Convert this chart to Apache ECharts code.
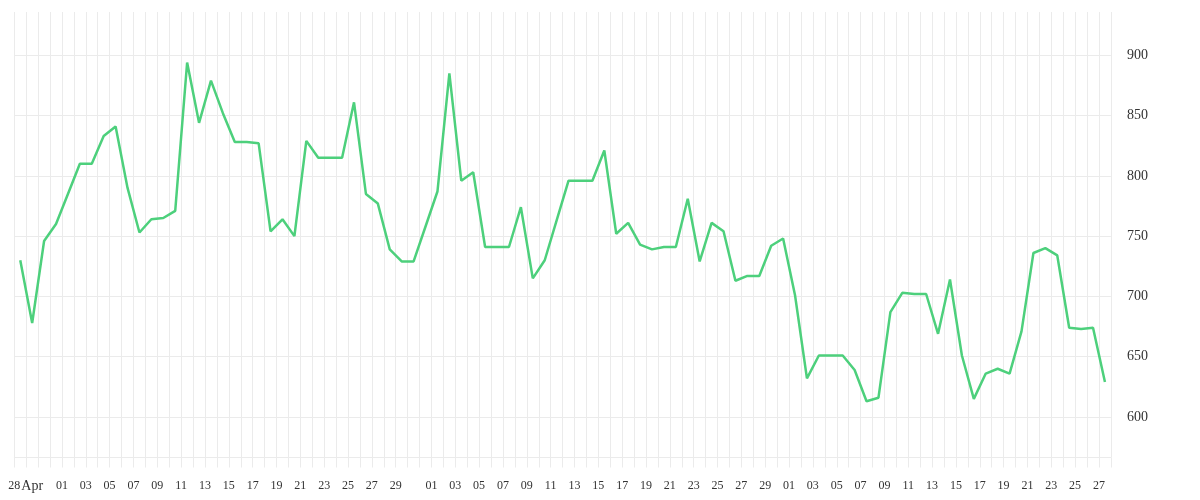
<!DOCTYPE html>
<html>
<head>
<meta charset="utf-8">
<script src="https://cdn.jsdelivr.net/npm/echarts@6/dist/echarts.min.js"></script>
<style>
  html, body { margin: 0; padding: 0; background: #ffffff; }
  #chart { width: 1200px; height: 500px; }
</style>
</head>
<body>
<div id="chart"></div>
<script>
// Day-of-month category for each point (4 + 31 + 30 + 27 = 92 days)
const categories = [
  '28','29','30','31',
  '01','02','03','04','05','06','07','08','09','10','11','12','13','14','15','16',
  '17','18','19','20','21','22','23','24','25','26','27','28','29','30','31',
  '01','02','03','04','05','06','07','08','09','10','11','12','13','14','15','16',
  '17','18','19','20','21','22','23','24','25','26','27','28','29','30',
  '01','02','03','04','05','06','07','08','09','10','11','12','13','14','15','16',
  '17','18','19','20','21','22','23','24','25','26','27'
];

// Tick labels shown under the axis ('' = hidden)
const xLabels = [
  '28','Apr','','',
  '01','','03','','05','','07','','09','','11','','13','','15','',
  '17','','19','','21','','23','','25','','27','','29','','',
  '01','','03','','05','','07','','09','','11','','13','','15','',
  '17','','19','','21','','23','','25','','27','','29','',
  '01','','03','','05','','07','','09','','11','','13','','15','',
  '17','','19','','21','','23','','25','','27'
];

const values = [
  730, 678, 746, 760, 785, 810, 810, 833, 841, 790,
  753, 764, 765, 771, 894, 844, 879, 852, 828, 828,
  827, 754, 764, 750, 829, 815, 815, 815, 861, 785,
  777, 739, 729, 729, 758, 787, 885, 796, 803, 741,
  741, 741, 774, 715, 730, 763, 796, 796, 796, 821,
  752, 761, 743, 739, 741, 741, 781, 729, 761, 754,
  713, 717, 717, 742, 748, 701, 632, 651, 651, 651,
  639, 613, 616, 687, 703, 702, 702, 669, 714, 651,
  615, 636, 640, 636, 671, 736, 740, 734, 674, 673,
  674, 629
];

const yTicks = [600, 650, 700, 750, 800, 850, 900];

const chart = echarts.init(document.getElementById('chart'), null, { renderer: 'canvas' });

chart.setOption({
  animation: false,
  backgroundColor: '#ffffff',
  grid: { left: 14.3, right: 89.1, top: 12, bottom: 42.5, containLabel: false },
  xAxis: {
    type: 'category',
    data: categories,
    boundaryGap: true,
    axisLine: { show: true, lineStyle: { color: '#ebebeb', width: 1 } },
    axisTick: { show: true, interval: 0, length: 10, lineStyle: { color: '#ebebeb', width: 1 } },
    splitLine: { show: true, interval: 0, lineStyle: { color: '#ebebeb', width: 1 } },
    axisLabel: {
      interval: 0,
      margin: 22,
      color: '#333',
      fontFamily: 'Liberation Serif',
      fontSize: 12,
      formatter: function (value, index) {
        const t = xLabels[index];
        if (!t) return '';
        if (t === 'Apr') return '{m|' + t + '}';
        return '{b|' + t + '}';
      },
      rich: {
        b: { padding: [0, 12, 0, 0], color: '#333', fontFamily: 'Liberation Serif', fontSize: 12 },
        m: { color: '#333', fontFamily: 'Liberation Serif', fontSize: 14 }
      }
    }
  },
  yAxis: {
    type: 'value',
    position: 'right',
    min: 566.4,
    max: 935.9,
    splitNumber: 7,
    axisLine: { show: false },
    axisTick: { show: false, customValues: yTicks },
    splitLine: { show: true, lineStyle: { color: '#ebebeb', width: 1 } },
    axisLabel: {
      customValues: yTicks,
      margin: 16,
      padding: [5, 0, 0, 0],
      color: '#333',
      fontFamily: 'Liberation Serif',
      fontSize: 14
    }
  },
  series: [{
    type: 'line',
    data: values,
    showSymbol: false,
    symbol: 'none',
    lineStyle: { color: '#4dd07c', width: 2.5 },
    itemStyle: { color: '#4dd07c' }
  }]
});
</script>
</body>
</html>
